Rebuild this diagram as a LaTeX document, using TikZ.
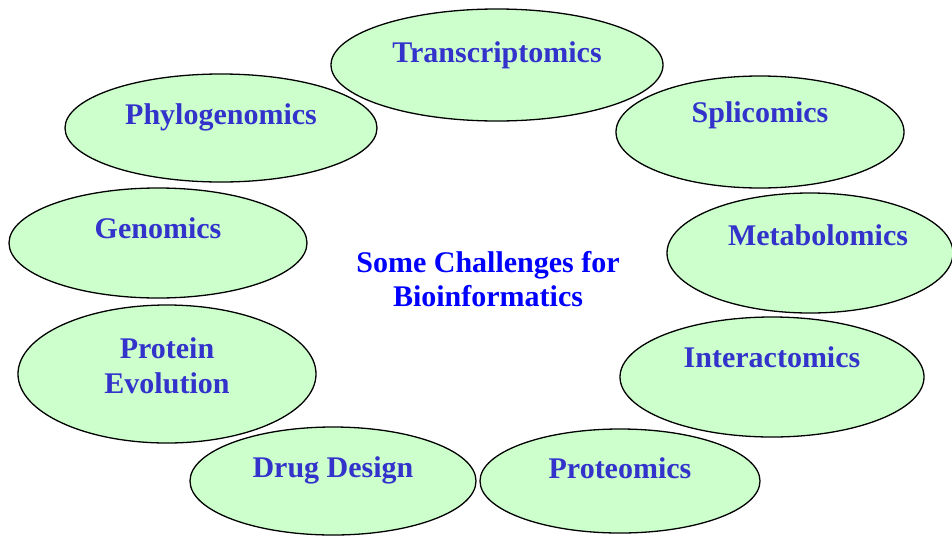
\documentclass[tikz,border=0pt]{standalone}
\usepackage{fontspec}
\setmainfont{Liberation Serif}
\usepackage{xcolor}
\usepackage{tikz}

\definecolor{bubblegreen}{HTML}{CCFFCC}
\definecolor{labelblue}{HTML}{3333CC}
\definecolor{titleblue}{HTML}{0000FF}

\tikzset{
    bubble/.style={draw=black, line width=1.3pt, fill=bubblegreen},
    omics/.style={anchor=base, text=labelblue, font=\fontsize{30}{35}\selectfont\bfseries, inner sep=0pt, align=center},
    title/.style={anchor=base, text=titleblue, font=\fontsize{30}{34}\selectfont\bfseries, inner sep=0pt, align=center}
}

\begin{document}
\begin{tikzpicture}[x=1pt, y=-1pt]
    \useasboundingbox (0,0) rectangle (952,536);

    % the ring of fields
    \draw[bubble] (497,65) ellipse (166 and 56);
    \node[omics] (transcr) at (497,62) {Transcriptomics};

    \draw[bubble] (221,128) ellipse (156 and 54);
    \node[omics] (phylo) at (221,124) {Phylogenomics};

    \draw[bubble] (760,132) ellipse (144 and 56);
    \node[omics] (splice) at (760,122) {Splicomics};

    \draw[bubble] (158,243) ellipse (149 and 55);
    \node[omics] (genom) at (158,238) {Genomics};

    \draw[bubble] (810,253) ellipse (143 and 60);
    \node[omics] (metab) at (818,245) {Metabolomics};

    \draw[bubble] (167,374) ellipse (149 and 69);
    \node[omics] (protevo) at (167,393) {Protein\\Evolution};

    \draw[bubble] (772,377) ellipse (152 and 60);
    \node[omics] (interact) at (772,367) {Interactomics};

    \draw[bubble] (333,481) ellipse (143 and 54);
    \node[omics] (drug) at (333,477) {Drug Design};

    \draw[bubble] (620,481) ellipse (140 and 52);
    \node[omics] (proteom) at (620,478) {Proteomics};

    % centre caption, baseline of its last line
    \node[title] (challenges) at (488,306) {Some Challenges for\\Bioinformatics};
\end{tikzpicture}
\end{document}
